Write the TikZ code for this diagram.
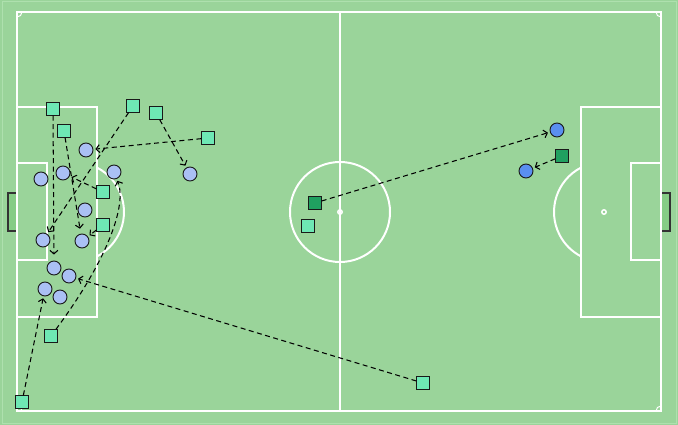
\documentclass[tikz,border=0pt]{standalone}
\usetikzlibrary{arrows.meta}
\definecolor{pitch}{HTML}{9AD49A}
\definecolor{pitchedge}{HTML}{AEE0AE}
\definecolor{goalfill}{HTML}{86CC86}
\definecolor{sqlight}{HTML}{6EE8B4}
\definecolor{sqdark}{HTML}{20A060}
\definecolor{cilight}{HTML}{AAC0F4}
\definecolor{cidark}{HTML}{5A8FF0}
\begin{document}
\begin{tikzpicture}[x=1pt,y=-1pt,
  fieldline/.style={draw=white,line width=2pt},
  goalbox/.style={draw=black!80,fill=goalfill,line width=1.2pt},
  sqa/.style={rectangle,draw=black!90,line width=0.9pt,fill=sqlight,minimum size=12.5pt,inner sep=0pt},
  sqb/.style={sqa,fill=sqdark},
  cia/.style={circle,draw=black!90,line width=0.9pt,fill=cilight,minimum size=14pt,inner sep=0pt},
  cib/.style={cia,fill=cidark},
  run/.style={draw=black,line width=1.05pt,dash pattern=on 5pt off 3.5pt,
    -{Straight Barb[length=3.5pt,width=8pt]},shorten >=2pt}]
\useasboundingbox (0,0) rectangle (678,425);
\fill[pitch] (0,0) rectangle (678,425);
\draw[pitchedge,line width=1pt] (2,2) rectangle (676,423);
% goals
\draw[goalbox] (17,193) -- (8,193) -- (8,231) -- (17,231);
\fill[goalfill] (8.6,193.6) rectangle (16,230.4);
\draw[goalbox] (661,193) -- (670,193) -- (670,231) -- (661,231);
\fill[goalfill] (662,193.6) rectangle (669.4,230.4);
% field lines
\draw[fieldline] (17,12) rectangle (661,411);
\draw[fieldline] (340,12) -- (340,411);
\draw[fieldline] (340,212) circle (50);
\draw[white,line width=1.5pt] (340,212) circle (2.2);
\draw[white,line width=1.5pt] (604,212) circle (2.2);
\draw[fieldline] (17,107) rectangle (97,317);
\draw[fieldline] (17,163) rectangle (47,260);
\draw[fieldline] (581,107) rectangle (661,317);
\draw[fieldline] (631,163) rectangle (661,260);
\draw[fieldline] (97,167.6) arc[start angle=-62.6,end angle=62.6,radius=50];
\draw[fieldline] (581,167.6) arc[start angle=242.6,end angle=117.4,radius=50];
% corner arcs
\draw[white,line width=1pt] (22,12) arc[start angle=0,end angle=90,radius=5];
\draw[white,line width=1pt] (656,12) arc[start angle=180,end angle=90,radius=5];
\draw[white,line width=1pt] (22,411) arc[start angle=0,end angle=-90,radius=5];
\draw[white,line width=1pt] (656,411) arc[start angle=180,end angle=270,radius=5];
% squares
\node[sqa] (s1) at (53,109) {};
\node[sqa] (s2) at (64,131) {};
\node[sqa] (s3) at (133,106) {};
\node[sqa] (s4) at (156,113) {};
\node[sqa] (s5) at (208,138) {};
\node[sqa] (s6) at (103,192) {};
\node[sqa] (s7) at (103,225) {};
\node[sqa] (s8) at (51,336) {};
\node[sqa] (s9) at (22,402) {};
\node[sqa] (s10) at (423,383) {};
\node[sqa] (s11) at (308,226) {};
\node[sqb] (d1) at (315,203) {};
\node[sqb] (d2) at (562,156) {};
% circles
\node[cia] (c1) at (86,150) {};
\node[cia] (c2) at (41,179) {};
\node[cia] (c3) at (63,173) {};
\node[cia] (c4) at (114,172) {};
\node[cia] (c5) at (190,174) {};
\node[cia] (c6) at (85,210) {};
\node[cia] (c7) at (43,240) {};
\node[cia] (c8) at (82,241) {};
\node[cia] (c9) at (54,268) {};
\node[cia] (c10) at (69,276) {};
\node[cia] (c11) at (45,289) {};
\node[cia] (c12) at (60,297) {};
\node[cib] (b1) at (557,130) {};
\node[cib] (b2) at (526,171) {};
% runs
\draw[run,shorten >=6pt] (s1) -- (c9);
\draw[run,shorten >=5pt] (s2) -- (c8);
\draw[run] (s3) -- (c7);
\draw[run] (s4) -- (c5);
\draw[run] (s5) -- (c1);
\draw[run] (s6) -- (c3);
\draw[run] (s7) -- (c8);
\draw[run] (s8) .. controls (108,259) and (127,205) .. (c4);
\draw[run] (s9) -- (c11);
\draw[run] (s10) -- (c10);
\draw[run] (d1) -- (b1);
\draw[run] (d2) -- (b2);
\end{tikzpicture}
\end{document}
